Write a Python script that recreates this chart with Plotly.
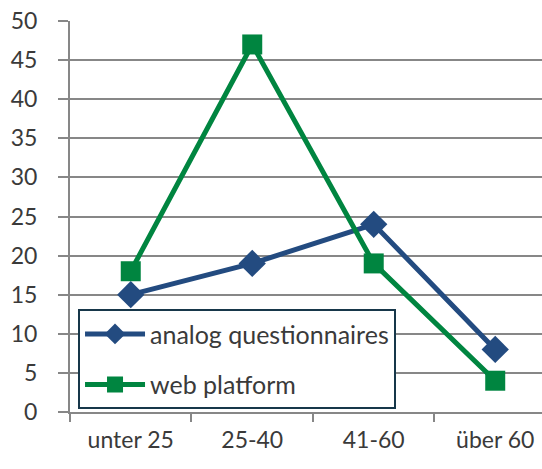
import plotly.graph_objects as go

categories = ["unter 25", "25-40", "41-60", "über 60"]
analog = [15, 19, 24, 8]
web = [18, 47, 19, 4]
y_ticks = [0, 5, 10, 15, 20, 25, 30, 35, 40, 45, 50]

BLUE = "#234B80"
GREEN = "#008540"
GRID = "#878787"
TXT = "#3A3A3A"
FONT = "Lato"

fig = go.Figure()
fig.add_trace(go.Scatter(
    x=categories, y=analog, name="analog questionnaires", mode="lines+markers",
    line=dict(color=BLUE, width=5), marker=dict(symbol="diamond", size=21, color=BLUE),
    legendgroup="a", cliponaxis=False))
fig.add_trace(go.Scatter(
    x=categories, y=web, name="web platform", mode="lines+markers",
    line=dict(color=GREEN, width=5), marker=dict(symbol="square", size=20, color=GREEN),
    legendgroup="b", cliponaxis=False))

fig.update_layout(
    width=542, height=469,
    margin=dict(l=70, r=0, t=21, b=57, pad=0),
    paper_bgcolor="white", plot_bgcolor="white",
    font=dict(family=FONT, size=23, color=TXT),
    showlegend=True,
    legend=dict(
        x=0.017, y=0.263, xanchor="left", yanchor="top",
        bgcolor="white", bordercolor="#17374A", borderwidth=2,
        font=dict(family=FONT, size=25, color=TXT),
        traceorder="grouped", tracegroupgap=15, itemwidth=60,
    ),
    xaxis=dict(
        type="category", range=[-0.5, 3.385], tickson="boundaries",
        ticks="outside", ticklen=8, tickwidth=2, tickcolor=GRID,
        showline=True, linecolor=GRID, linewidth=2, showgrid=False,
        tickfont=dict(family=FONT, size=23, color=TXT), ticklabelstandoff=6,
        automargin=False,
    ),
    yaxis=dict(
        range=[0, 50], tickvals=y_ticks, ticks="outside", ticklen=10,
        tickwidth=2, tickcolor=GRID, showline=True, linecolor=GRID, linewidth=2,
        showgrid=True, gridcolor=GRID, gridwidth=2, zeroline=False,
        tickfont=dict(family=FONT, size=23, color=TXT), ticklabelstandoff=16,
        automargin=False,
    ),
)

fig.write_html("out.html", config={"displayModeBar": False},
               post_script="document.body.style.margin='0';")
